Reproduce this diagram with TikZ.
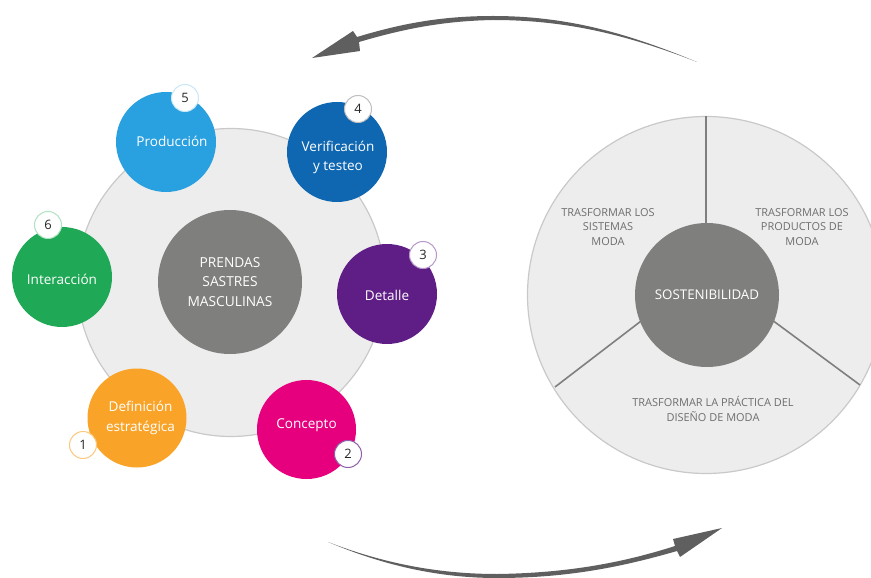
\documentclass[tikz,border=0pt]{standalone}
\usepackage{fontspec}
\setmainfont{Open Sans}
\definecolor{disc}{HTML}{EDEDED}
\definecolor{discline}{HTML}{C9C9C9}
\definecolor{hub}{HTML}{7F7F7D}
\definecolor{arrowgray}{HTML}{5F5F5F}
\definecolor{labelgray}{HTML}{6E6E6E}
\definecolor{cOrange}{HTML}{F9A428}
\definecolor{cPink}{HTML}{E6007E}
\definecolor{cPurple}{HTML}{5F1D86}
\definecolor{cDark}{HTML}{0F67B1}
\definecolor{cSky}{HTML}{29A0DF}
\definecolor{cGreen}{HTML}{1FA855}
\tikzset{
  x=1bp,y=-1bp,
  bigdisc/.style={circle,draw=discline,line width=1.2bp,fill=disc,inner sep=0pt},
  hubdisc/.style={circle,fill=hub,inner sep=0pt,minimum size=144bp,text=white,align=center,font=\fontsize{13.8}{19.2}\selectfont},
  stage/.style={circle,inner sep=0pt,minimum size=100bp},
  stagetext/.style={text=white,align=center,inner sep=0pt,font=\fontsize{13.6}{19.5}\selectfont},
  badge/.style={circle,fill=white,draw=#1,line width=1bp,inner sep=0pt,minimum size=27bp,text=black!85,font=\fontsize{13}{14}\selectfont},
  spoke/.style={draw=hub,line width=1.6bp},
  graylabel/.style={text=labelgray,align=center,inner sep=0pt,font=\fontsize{11}{14.5}\selectfont},
  sweep/.style={fill=arrowgray,draw=none},
}
\begin{document}
\begin{tikzpicture}
\useasboundingbox (0,0) rectangle (871,578);
% left group
\node[bigdisc,minimum size=308bp] (leftdisc) at (231,282.5) {};
\node[hubdisc] (lefthub) at (230,282) {PRENDAS\\SASTRES\\MASCULINAS};
\node[stage,fill=cSky,label={[stagetext,xshift=6bp,yshift=1bp]center:Producción}] (s5) at (166,142) {};
\node[stage,fill=cDark,label={[stagetext,xshift=1bp,yshift=-5.5bp]center:Verificación\\y testeo}] (s4) at (337,152) {};
\node[stage,fill=cGreen,label={[stagetext,yshift=-2bp]center:Interacción}] (s6) at (62,277) {};
\node[stage,fill=cPurple,label={[stagetext,yshift=-1bp]center:Detalle}] (s3) at (387,294) {};
\node[stage,fill=cOrange,minimum size=99bp,label={[stagetext,xshift=3.5bp]center:Definición\\estratégica}] (s1) at (137,418) {};
\node[stage,fill=cPink,minimum size=99bp,label={[stagetext,yshift=4bp]center:Concepto}] (s2) at (306.5,429.5) {};
\node[badge=cSky!25] (b5) at (185,98) {5};
\node[badge=black!25] (b4) at (358,109) {4};
\node[badge=cGreen!35] (b6) at (48,225) {6};
\node[badge=cPurple!45] (b3) at (423,255) {3};
\node[badge=cOrange!60] (b1) at (83,445) {1};
\node[badge=cPurple!70] (b2) at (348,454) {2};
% right group
\begin{scope}
\clip (0,0) rectangle (871,578);
\node[bigdisc,minimum size=357bp] (rightdisc) at (706,295) {};
\end{scope}
\coordinate (rimTop) at (706,116);
\coordinate (rimLeft) at (555,387);
\coordinate (rimRight) at (860,385);
\coordinate (hubTop) at (706,230);
\coordinate (hubLeft) at (645,318);
\coordinate (hubRight) at (768,317);
\draw[spoke] (rimTop) -- (hubTop);
\draw[spoke] (rimLeft) -- (hubLeft);
\draw[spoke] (rimRight) -- (hubRight);
\node[hubdisc,font=\fontsize{13.4}{14}\selectfont] (righthub) at (707,295) {SOSTENIBILIDAD};
\node[graylabel] (t1) at (608,227) {TRASFORMAR LOS\\SISTEMAS\\MODA};
\node[graylabel] (t2) at (802,227) {TRASFORMAR LOS\\PRODUCTOS DE\\MODA};
\node[graylabel] (t3) at (713,409) {TRASFORMAR LA PRÁCTICA DEL\\DISEÑO DE MODA};
% sweeping arrows
\fill[sweep] (697,62) .. controls (625,32) and (565,16) .. (493,16)
  .. controls (440,16) and (400,24) .. (357,37)
  -- (353,31) -- (312,58) -- (360,51) -- (359,42)
  .. controls (400,30) and (440,21) .. (493,20)
  .. controls (565,20) and (625,34) .. (697,62) -- cycle;
\fill[sweep] (328,542) .. controls (385,566) and (440,578) .. (497,578)
  .. controls (570,578) and (625,566) .. (677,551)
  -- (680,557) -- (722,528) -- (673,539) -- (675,546)
  .. controls (625,562) and (570,573) .. (497,574)
  .. controls (440,574) and (385,564) .. (328,542) -- cycle;
\end{tikzpicture}
\end{document}
